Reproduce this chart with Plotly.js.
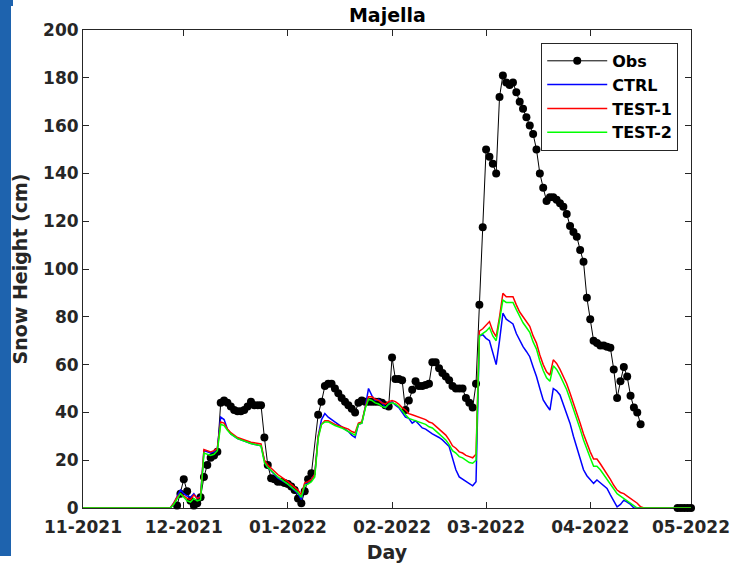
<!DOCTYPE html>
<html>
<head>
<meta charset="utf-8">
<script src="https://cdn.plot.ly/plotly-3.0.1.min.js"></script>
<style>
  html, body { margin: 0; padding: 0; background: #ffffff; }
  #chart { position: absolute; left: 0; top: 0; width: 738px; height: 566px; }
  #strip { position: absolute; left: 0; top: 0; width: 11px; height: 556px; background: #1e63ae; z-index: 5; }
  #strip2 { position: absolute; left: 0; top: 0; width: 13px; height: 6px; background: #1e63ae; z-index: 5; }
</style>
</head>
<body>
<div id="chart"></div>
<div id="strip"></div>
<div id="strip2"></div>
<script>
// Day offsets counted from 2021-11-01
const obsDay = [28,29,30,31,32,33,34,35,36,37,38,39,40,41,42,43,44,45,46,47,48,49,50,51,52,53,54,55,56,57,58,59,60,61,62,63,64,65,66,67,68,70,71,72,73,74,75,76,77,78,79,80,81,82,83,84,85,86,87,88,89,90,91,92,93,94,95,96,97,98,99,100,101,102,103,104,105,106,107,108,109,110,111,112,113,114,115,116,117,118,119,120,121,122,123,124,125,126,127,128,129,130,131,132,133,134,135,136,137,138,139,140,141,142,143,144,145,146,147,148,149,150,151,152,153,154,155,156,157,158,159,160,161,162,163,164,165,166,170,177,178,179,180,181];
const obsVal = [1,6,12,7,3,1,2,4.5,13,18,21,22,23.5,44,45,44,42.5,41,40.5,40.5,41,42.5,44.5,43,43,43,29.5,18,12.5,12,11,11,10.5,10,9,7.5,4,2,7,12,14.5,39,44.5,51,52,52,50,48,46,44.5,43,41.5,40,44,45,44.5,44.5,44.5,44.5,44.5,44,43,42.5,63,54,54,53.5,41,45,49.5,53,51,51,51.5,52,61,61,58.5,56.5,55,53.5,51,50,50,50,46,44,42,52,85,117.5,150,147,144,140,172,181,178,177,178,174,170,167,163.5,160,156.5,150,140,134,128.5,130,130,129,127.5,126,123,118,115.5,113.5,108,103,88,79,70,69,68,68,67.5,67,58,46,53,59,55,47,42,40,35,null,0,0,0,0,0];

const ctrlDay = [0,26,27,28,29,30,31,32,33,34,35,36,37,38,39,40,41,42,43,44,46,48,50,53,54,55,58,61,64,65,66,67,68,69,70,71,72,73,75,77,79,80,81,82,83,84,85,86,87,88,89,90,91,92,93,94,96,97,98,99,100,101,102,104,106,107,109,110,111,112,113,114,115,116,117,118,119,120,121,122,123,124,125,126,127,128,129,130,131,132,133,134,135,136,137,138,139,140,141,142,143,144,145,146,147,148,149,150,151,152,153,154,155,156,157,158,159,160,161,162,163,164,181];
const ctrlVal = [0,0,2,5,7.5,6,5,4.5,6,4,5,24,23.5,23,23.5,25,38,37,33,31,29,28,27,26,20,17,12.5,10,6,3.5,10,10.5,12,14,30,37,39.5,38,36,34,32,30.5,29.5,35,35.5,42,50,47,45,45.5,44,42,43.5,44.5,43,42,38,37.5,35.5,36.5,35,33.5,33,31,29.5,28.5,25.7,21,16,13,12,11,10,9.3,11,72,72.5,71,70,65,60,70,81.5,79,78,77,73,70,67.5,65.5,63.3,59,55,50,45.2,43,41,50,49,47.3,43,39,35.4,30,25,20,16,13.5,12,10.3,11.7,10.5,9.5,8.2,5.5,3,0.5,1.5,3.3,2.5,1.5,0,0];

const test1Day = [0,26,27,28,29,30,31,32,33,34,35,36,37,38,39,40,41,42,43,44,46,48,50,53,54,55,58,61,64,65,66,67,68,69,70,71,72,73,75,77,79,80,81,82,83,84,85,86,87,88,89,90,91,92,93,94,95,96,97,98,99,100,101,102,103,104,106,108,109,110,111,112,113,114,115,116,117,118,119,120,121,122,123,124,125,126,127,128,129,130,131,132,133,134,135,136,137,138,139,140,141,142,143,144,145,146,147,148,149,150,151,152,153,154,155,156,157,158,159,160,161,162,163,164,165,166,167,181];
const test1Val = [0,0,2,4.5,6,5,4,3.5,5.5,4,4.5,24.5,24,23.5,24,25,36,35.5,33,31.5,29.5,28.5,27.5,26.8,20,18,14,11,7.5,5.5,10.5,11,12,14,30,35,36.5,36.5,35,34,33,32,31.5,35.5,36,42,46.5,46.5,45.5,45,44,43.5,44.5,45,44.5,43.5,42,41,39.5,39,38.5,38,37.5,37,36,35.5,33,30.5,28.5,26,25,23.5,23,22,21.5,21,22.5,74,75,76.5,78,74,71.7,80,89.8,88.4,88.5,88.4,85,82,80,78,76,72,69,64,60,57,55.6,62,60.5,58,55,52,48,44,39.6,35.5,31,27,23.5,20.5,20.5,18.5,16.5,14.5,12,9.5,7.5,6.5,6,5,4,3.3,2,0.5,0,0];

const test2Day = [0,26,27,28,29,30,31,32,33,34,35,36,37,38,39,40,41,42,43,44,46,48,50,53,54,55,58,61,64,65,66,67,68,69,70,71,72,73,75,77,79,80,81,82,83,84,85,86,87,88,89,90,91,92,93,94,95,96,97,98,99,100,101,102,103,104,106,108,109,110,111,112,113,114,115,116,117,118,119,120,121,122,123,124,125,126,127,128,129,130,131,132,133,134,135,136,137,138,139,140,141,142,143,144,145,146,147,148,149,150,151,152,153,154,155,156,157,158,159,160,161,162,163,164,165,181];
const test2Val = [0,0,1.5,4,6,4.5,3,2.5,4,3,3.5,23,22.5,22,22.5,24,35,34.5,32.5,31,29,28,27,26,19,17,13,10,6.5,4.5,9.5,10,11,13,29,35,36,36,34.5,33.5,32,31,30.5,35,35.5,41.5,45.5,45,44,43.5,42.5,42,43.5,44,43.5,42.5,40.5,39,37.5,37,36.5,36,35.5,35,34,33.5,31,28.5,26.5,24,23,21.5,21,20,19,18.7,20,72,73,74,75.5,72,70,78,87,86,86,86,83,80,77.5,75.5,73.5,69.5,66.5,61.5,57.5,54.5,53,59.5,58,55.5,52.5,49.5,45.5,41.5,37,33,28.5,24.5,21,17.5,17.5,16,14,12,10,8,6,5,4,3,2,1.2,0,0];

const startDate = '2021-11-01';
const xTickFormat = '%m-%Y';

function toDates(days) {
  const base = Date.UTC(2021, 10, 1);
  return days.map(d => {
    const t = new Date(base + d * 86400000);
    return t.toISOString().slice(0, 10);
  });
}

const FONT = 'DejaVu Sans';
const traces = [
  { x: toDates(obsDay), y: obsVal, name: 'Obs', type: 'scatter', mode: 'lines+markers',
    line: { color: '#000000', width: 1 }, marker: { color: '#000000', size: 8 },
    connectgaps: false, cliponaxis: false },
  { x: toDates(ctrlDay), y: ctrlVal, name: 'CTRL', type: 'scatter', mode: 'lines',
    line: { color: '#0000ff', width: 1.5 } },
  { x: toDates(test1Day), y: test1Val, name: 'TEST-1', type: 'scatter', mode: 'lines',
    line: { color: '#ff0000', width: 1.5 } },
  { x: toDates(test2Day), y: test2Val, name: 'TEST-2', type: 'scatter', mode: 'lines',
    line: { color: '#00ff00', width: 1.5 } }
];

const axisCommon = {
  showgrid: false, zeroline: false, showline: true, linecolor: '#262626', linewidth: 1,
  ticks: 'inside', ticklen: 6, tickwidth: 1, tickcolor: '#262626', mirror: 'ticks',
  tickfont: { family: FONT, size: 17, color: '#262626', weight: 'bold' },
  layer: 'below traces'
};

const layout = {
  width: 738, height: 566,
  margin: { l: 83, r: 47, t: 30, b: 58 },
  paper_bgcolor: '#ffffff', plot_bgcolor: '#ffffff',
  title: { text: 'Majella', font: { family: FONT, size: 19, color: '#000000', weight: 'bold' },
           x: 0.525, xanchor: 'center', y: 0.972, yanchor: 'middle' },
  xaxis: Object.assign({}, axisCommon, {
    type: 'date', range: [startDate, '2022-05-01'], tickformat: xTickFormat,
    dtick: 'M1', tick0: startDate, ticklabelstandoff: 4,
    title: { text: 'Day', font: { family: FONT, size: 19, color: '#262626', weight: 'bold' }, standoff: 9 }
  }),
  yaxis: Object.assign({}, axisCommon, {
    range: [0, 200], dtick: 20,
    title: { text: 'Snow Height (cm)', font: { family: FONT, size: 19, color: '#262626', weight: 'bold' }, standoff: 10 }
  }),
  showlegend: true,
  legend: {
    x: 0.979, y: 0.973, xanchor: 'right', yanchor: 'top',
    bgcolor: '#ffffff', bordercolor: '#262626', borderwidth: 1,
    font: { family: FONT, size: 16, color: '#000000', weight: 'bold' },
    itemwidth: 60, tracegroupgap: 0
  }
};

Plotly.newPlot('chart', traces, layout, { displayModeBar: false, staticPlot: true });
</script>
</body>
</html>
